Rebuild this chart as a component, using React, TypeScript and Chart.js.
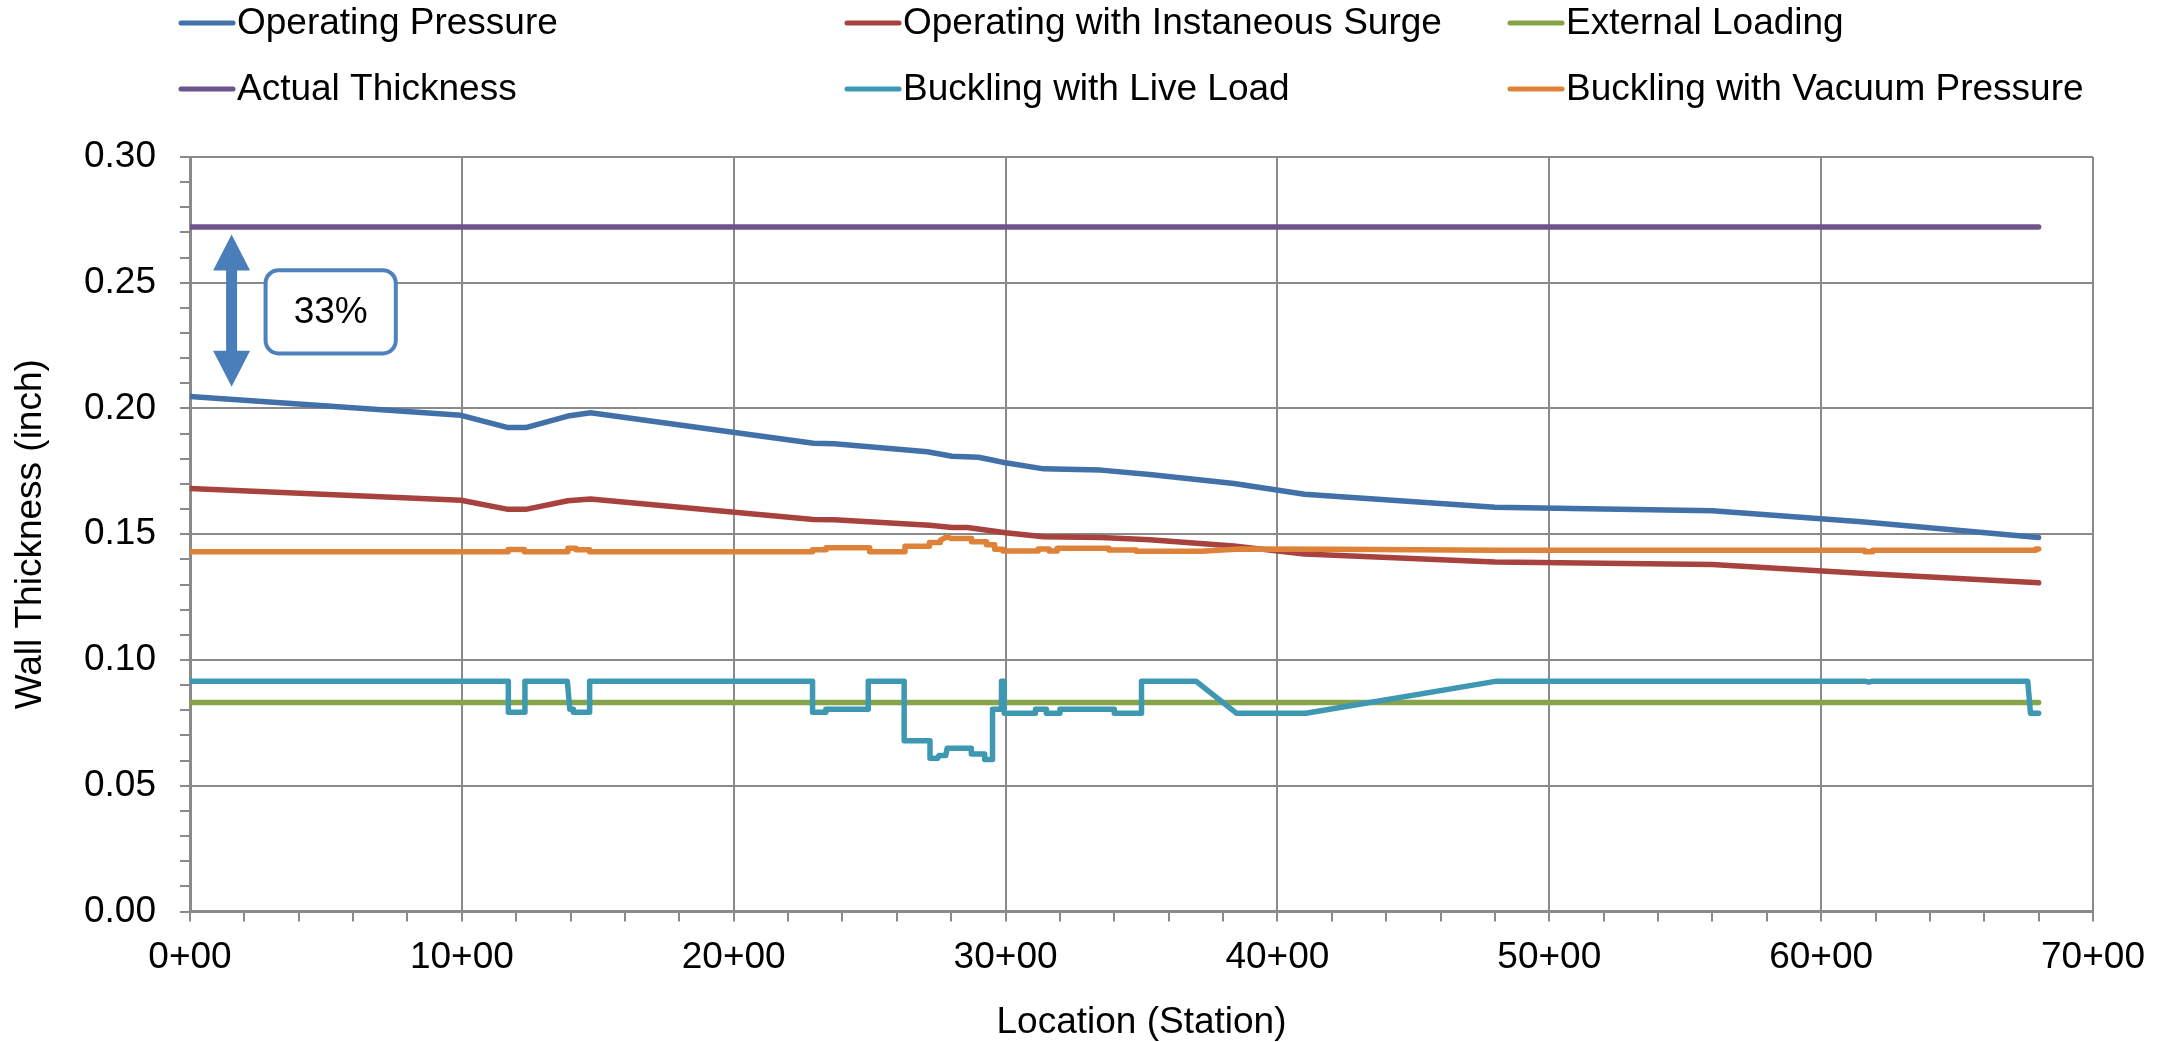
import React, { useEffect, useRef } from "react";
import { Chart, registerables } from "chart.js";

Chart.register(...registerables);

// ---------- DATA ----------
const seriesNames = [
  "Operating Pressure",
  "Operating with Instaneous Surge",
  "External Loading",
  "Actual Thickness",
  "Buckling with Live Load",
  "Buckling with Vacuum Pressure",
];

const operatingStations = [0, 9.97, 11.7, 12.35, 13.9, 14.73, 22.93, 23.7, 27.12, 28.03, 29.0, 29.42, 30.0, 31.4, 33.5, 35.3, 38.4, 41.0, 48.0, 56.0, 61.6, 68.0];
const operatingValues = [0.2048, 0.1973, 0.1924, 0.1924, 0.197, 0.1983, 0.1862, 0.186, 0.1828, 0.181, 0.1806, 0.1797, 0.1784, 0.176, 0.1755, 0.1738, 0.1702, 0.1659, 0.1607, 0.1593, 0.1549, 0.1487];

const surgeStations = [0, 9.97, 11.7, 12.35, 13.9, 14.73, 22.93, 23.7, 27.2, 28.03, 28.6, 30.0, 31.4, 33.5, 35.3, 38.4, 41.0, 48.0, 56.0, 61.6, 68.0];
const surgeValues = [0.1682, 0.1635, 0.1599, 0.1599, 0.1633, 0.164, 0.1559, 0.1558, 0.1536, 0.1527, 0.1527, 0.1506, 0.149, 0.1487, 0.1478, 0.1453, 0.1421, 0.139, 0.138, 0.1344, 0.1307];

const externalStations = [0, 68];
const externalValues = [0.0831, 0.0831];

const actualStations = [0, 68];
const actualValues = [0.2722, 0.2722];

const liveStations = [0, 11.71, 11.71, 12.32, 12.32, 13.88, 13.97, 14.1, 14.1, 14.7, 14.7, 22.9, 22.9, 23.39, 23.39, 24.95, 24.95, 26.27, 26.27, 27.22, 27.22, 27.5, 27.55, 27.8, 27.85, 28.74, 28.74, 29.23, 29.23, 29.52, 29.52, 29.85, 29.85, 29.95, 29.95, 31.1, 31.1, 31.5, 31.5, 32.0, 32.0, 34.0, 34.0, 35.0, 35.0, 37.0, 38.5, 41.05, 48.07, 61.6, 61.75, 61.9, 67.6, 67.7, 68.0];
const liveValues = [0.0916, 0.0916, 0.0792, 0.0792, 0.0916, 0.0916, 0.0804, 0.0804, 0.0792, 0.0792, 0.0916, 0.0916, 0.0792, 0.0792, 0.0804, 0.0804, 0.0916, 0.0916, 0.0679, 0.0679, 0.0609, 0.0609, 0.062, 0.062, 0.0649, 0.0649, 0.0626, 0.0626, 0.0604, 0.0604, 0.0804, 0.0804, 0.0916, 0.0916, 0.0788, 0.0788, 0.0804, 0.0804, 0.0788, 0.0788, 0.0804, 0.0804, 0.0788, 0.0788, 0.0916, 0.0916, 0.0788, 0.0788, 0.0916, 0.0916, 0.0912, 0.0916, 0.0916, 0.0788, 0.0788];

const vacuumStations = [0, 11.7, 11.7, 12.3, 12.3, 13.9, 13.9, 14.2, 14.2, 14.7, 14.7, 22.9, 22.9, 23.4, 23.4, 25.0, 25.0, 26.3, 26.3, 27.2, 27.2, 27.6, 27.6, 27.85, 28.0, 28.75, 28.75, 29.3, 29.3, 29.6, 29.6, 29.9, 29.9, 31.2, 31.2, 31.6, 31.6, 31.9, 31.9, 33.8, 33.8, 34.8, 34.8, 37.2, 38.6, 42.0, 48.0, 61.6, 61.6, 61.9, 61.9, 67.9, 67.9, 68.0];
const vacuumValues = [0.143, 0.143, 0.1439, 0.1439, 0.143, 0.143, 0.1444, 0.1444, 0.1438, 0.1438, 0.143, 0.143, 0.1438, 0.1438, 0.1446, 0.1446, 0.143, 0.143, 0.1452, 0.1452, 0.1467, 0.1467, 0.1476, 0.149, 0.1483, 0.1483, 0.147, 0.147, 0.1458, 0.1458, 0.144, 0.144, 0.1433, 0.1433, 0.1441, 0.1441, 0.1433, 0.1433, 0.1444, 0.1444, 0.1437, 0.1437, 0.1432, 0.1432, 0.1441, 0.144, 0.1436, 0.1436, 0.143, 0.143, 0.1436, 0.1436, 0.1441, 0.1441];

const xTitle = "Location (Station)";
const yTitle = "Wall Thickness (inch)";
const annotationText = "33%";
// annotation arrow between Actual Thickness and Operating Pressure near the start
const arrowStation = 1.53;
const arrowTopValue = 0.2692;
const arrowBottomValue = 0.2086;
const boxStations = [2.78, 7.57];
const boxValues = [0.255, 0.2219];

// ---------- STYLE ----------
const FONT = '"Liberation Sans", Arial, Helvetica, sans-serif';
const FONT_SIZE = 37;
const seriesColors = ["#4270A8", "#A8423F", "#86A44A", "#6E548D", "#3F98B1", "#DD8238"];
const GRID = "#8a8a8a";
const LINE_W = 5.5;

const stationSets = [operatingStations, surgeStations, externalStations, actualStations, liveStations, vacuumStations];
const valueSets = [operatingValues, surgeValues, externalValues, actualValues, liveValues, vacuumValues];

const isMajorY = (v: number) => Math.round(v * 100) % 5 === 0;
const isMajorX = (v: number) => Math.round(v) % 10 === 0;

const customPlugin = {
  id: "customDecor",
  afterDatasetsDraw(chart: any) {
    const ctx = chart.ctx;
    const xs = chart.scales.x;
    const ys = chart.scales.y;
    // arrow
    const ax = xs.getPixelForValue(arrowStation);
    const top = ys.getPixelForValue(arrowTopValue);
    const bot = ys.getPixelForValue(arrowBottomValue);
    const headLen = 36;
    const headHalf = 18.5;
    const shaftHalf = 5.5;
    ctx.save();
    ctx.fillStyle = "#4A7EBB";
    ctx.beginPath();
    ctx.moveTo(ax, top);
    ctx.lineTo(ax + headHalf, top + headLen);
    ctx.lineTo(ax + shaftHalf, top + headLen);
    ctx.lineTo(ax + shaftHalf, bot - headLen);
    ctx.lineTo(ax + headHalf, bot - headLen);
    ctx.lineTo(ax, bot);
    ctx.lineTo(ax - headHalf, bot - headLen);
    ctx.lineTo(ax - shaftHalf, bot - headLen);
    ctx.lineTo(ax - shaftHalf, top + headLen);
    ctx.lineTo(ax - headHalf, top + headLen);
    ctx.closePath();
    ctx.fill();
    // box
    const bx0 = xs.getPixelForValue(boxStations[0]);
    const bx1 = xs.getPixelForValue(boxStations[1]);
    const by0 = ys.getPixelForValue(boxValues[0]);
    const by1 = ys.getPixelForValue(boxValues[1]);
    const r = 13;
    ctx.beginPath();
    ctx.moveTo(bx0 + r, by0);
    ctx.lineTo(bx1 - r, by0);
    ctx.arcTo(bx1, by0, bx1, by0 + r, r);
    ctx.lineTo(bx1, by1 - r);
    ctx.arcTo(bx1, by1, bx1 - r, by1, r);
    ctx.lineTo(bx0 + r, by1);
    ctx.arcTo(bx0, by1, bx0, by1 - r, r);
    ctx.lineTo(bx0, by0 + r);
    ctx.arcTo(bx0, by0, bx0 + r, by0, r);
    ctx.closePath();
    ctx.fillStyle = "#ffffff";
    ctx.fill();
    ctx.lineWidth = 4;
    ctx.strokeStyle = "#4F81BD";
    ctx.stroke();
    ctx.fillStyle = "#000";
    ctx.font = `${FONT_SIZE}px ${FONT}`;
    ctx.textAlign = "center";
    ctx.textBaseline = "middle";
    ctx.fillText(annotationText, (bx0 + bx1) / 2, (by0 + by1) / 2 + 1);
    ctx.restore();
  },
  afterDraw(chart: any) {
    const ctx = chart.ctx;
    const area = chart.chartArea;
    ctx.save();
    ctx.fillStyle = "#000";
    ctx.font = `${FONT_SIZE}px ${FONT}`;
    ctx.textBaseline = "middle";
    // legend
    const colX = [179, 845, 1508];
    const rowY = [23, 89];
    seriesNames.forEach((name, i) => {
      const col = i % 3;
      const row = Math.floor(i / 3);
      const x = colX[col];
      const y = rowY[row];
      ctx.strokeStyle = seriesColors[i];
      ctx.lineWidth = 5;
      ctx.lineCap = "round";
      ctx.beginPath();
      ctx.moveTo(x + 2, y);
      ctx.lineTo(x + 54, y);
      ctx.stroke();
      ctx.textAlign = "left";
      ctx.fillText(name, x + 58, y + 1);
    });
    // axis titles
    ctx.textAlign = "center";
    ctx.fillText(xTitle, (area.left + area.right) / 2, 1023);
    ctx.translate(31, (area.top + area.bottom) / 2);
    ctx.rotate(-Math.PI / 2);
    ctx.fillText(yTitle, 0, 0);
    ctx.restore();
  },
};

export default function App() {
  const canvasRef = useRef<HTMLCanvasElement | null>(null);

  useEffect(() => {
    document.body.style.margin = "0";
    const canvas = canvasRef.current;
    if (!canvas) return;
    const datasets = seriesNames.map((name, i) => ({
      label: name,
      data: stationSets[i].map((x, j) => ({ x, y: valueSets[i][j] })),
      borderColor: seriesColors[i],
      backgroundColor: seriesColors[i],
      borderWidth: LINE_W,
      pointRadius: 0,
      pointHoverRadius: 0,
      tension: 0,
      fill: false,
      borderCapStyle: "round" as const,
      borderJoinStyle: "round" as const,
      order: 5 - i,
    }));
    const chart = new Chart(canvas, {
      type: "line",
      data: { datasets },
      options: {
        animation: false,
        responsive: false,
        devicePixelRatio: 1,
        layout: { padding: { left: 0, right: 79, top: 157, bottom: 0 } },
        plugins: {
          legend: { display: false },
          tooltip: { enabled: false },
          title: { display: false },
        },
        scales: {
          x: {
            type: "linear",
            min: 0,
            max: 70,
            afterFit: (scale: any) => {
              scale.height = 130.5;
            },
            ticks: {
              stepSize: 2,
              autoSkip: false,
              maxRotation: 0,
              minRotation: 0,
              padding: 14,
              color: "#000",
              font: { family: FONT, size: FONT_SIZE },
              callback: (v: any) => (isMajorX(Number(v)) ? `${Math.round(Number(v))}+00` : ""),
            },
            grid: {
              color: (c: any) => (c.tick && isMajorX(c.tick.value) ? GRID : "rgba(0,0,0,0)"),
              tickColor: GRID,
              lineWidth: 2,
              tickLength: 10,
              drawTicks: true,
            },
            border: { display: true, color: GRID, width: 3 },
          },
          y: {
            type: "linear",
            min: 0,
            max: 0.3,
            afterFit: (scale: any) => {
              scale.width = 190;
            },
            ticks: {
              stepSize: 0.01,
              autoSkip: false,
              padding: 24,
              color: "#000",
              font: { family: FONT, size: FONT_SIZE },
              callback: (v: any) => (isMajorY(Number(v)) ? Number(v).toFixed(2) : ""),
            },
            grid: {
              color: (c: any) => (c.tick && isMajorY(c.tick.value) ? GRID : "rgba(0,0,0,0)"),
              tickColor: GRID,
              lineWidth: 2,
              tickLength: 10,
              drawTicks: true,
            },
            border: { display: true, color: GRID, width: 3 },
          },
        },
      },
      plugins: [customPlugin],
    } as any);
    return () => chart.destroy();
  }, []);

  return (
    <div style={{ position: "absolute", left: 0, top: 0, width: 2172, height: 1042, background: "#fff" }}>
      <canvas ref={canvasRef} width={2172} height={1042} style={{ width: 2172, height: 1042, display: "block" }} />
    </div>
  );
}
